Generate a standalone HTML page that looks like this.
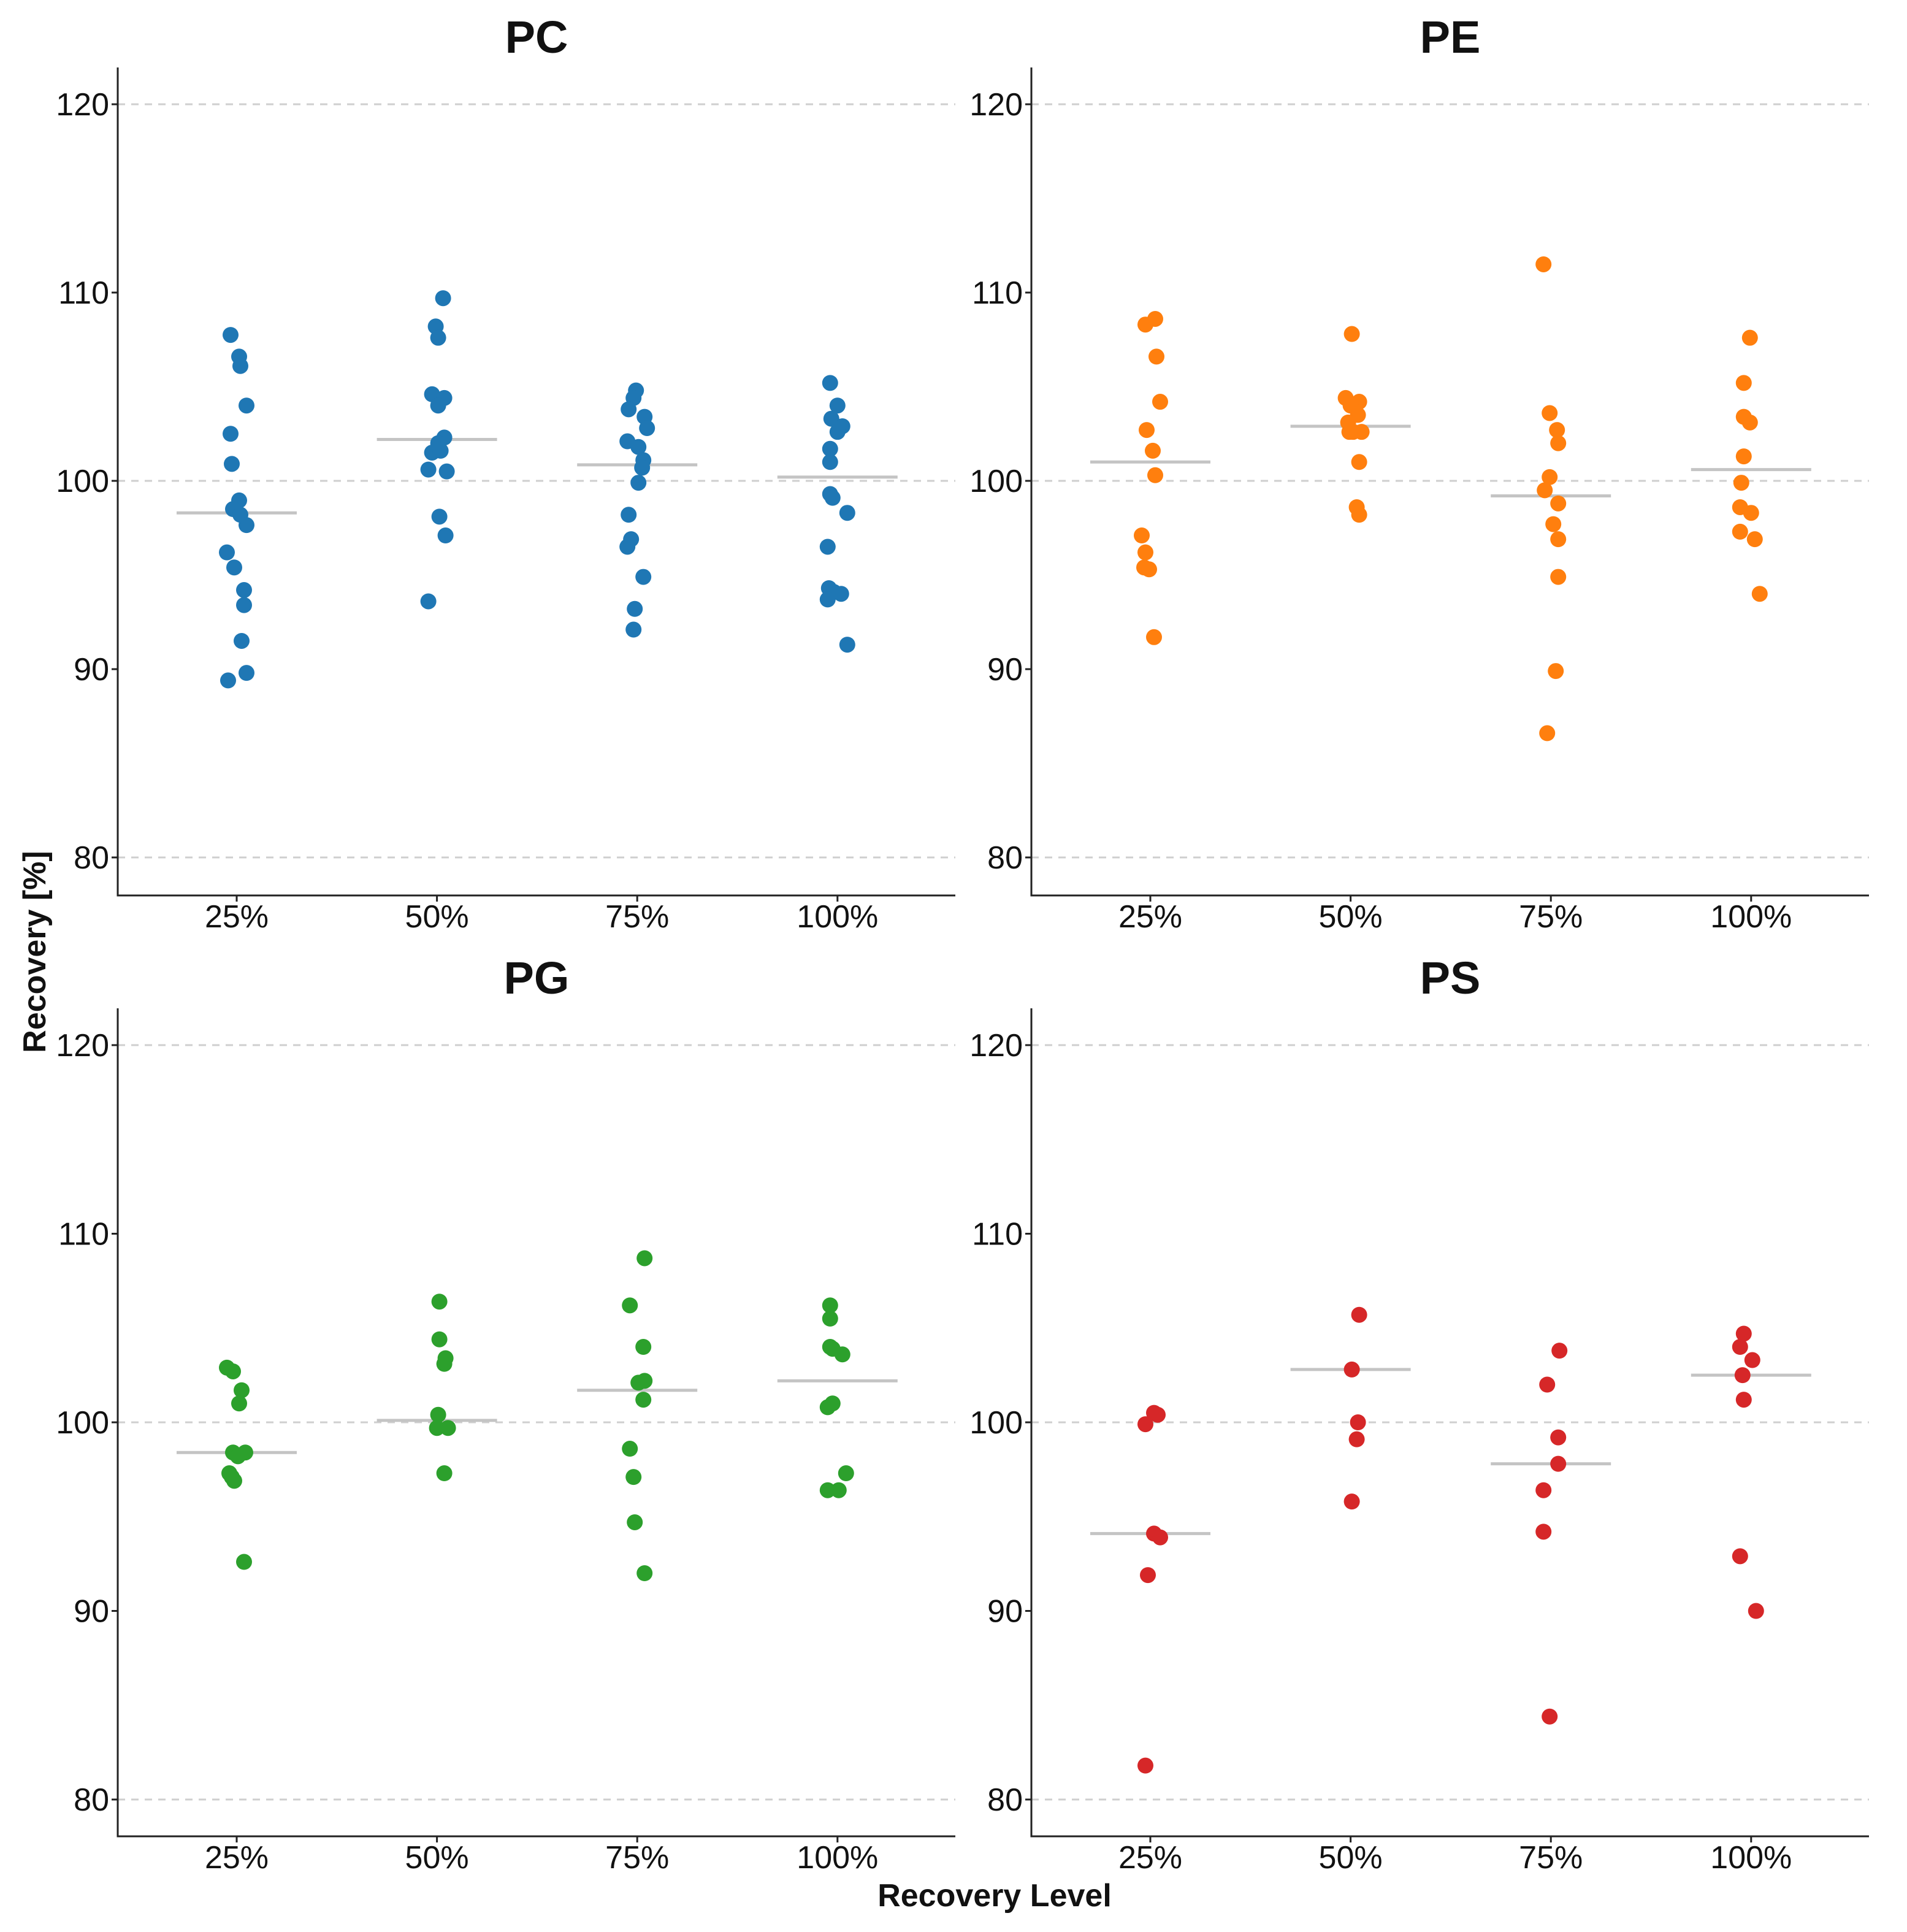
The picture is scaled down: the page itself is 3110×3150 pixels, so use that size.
<!DOCTYPE html>
<html><head><meta charset="utf-8"><style>
html,body{margin:0;padding:0;background:#fff}
svg{display:block;font-family:"Liberation Sans",Arial,sans-serif}
</style></head><body>
<svg id="chart" width="3110" height="3150" viewBox="0 0 1555 1575" xmlns="http://www.w3.org/2000/svg"></svg>
<script>
const categories = ["25%","50%","75%","100%"];
const yTicks = [80,90,100,110,120];
const gridLines = [80,100,120];
const panelNames = ["PC","PE","PG","PS"];
const colors = ["#1f77b4","#ff7f0e","#2ca02c","#d62728"];
const pcValues = [
 [107.75,106.6,106.1,104.0,102.5,100.9,98.96,98.5,98.2,97.65,96.2,95.4,94.2,93.4,91.5,89.8,89.4],
 [109.7,108.2,107.6,104.6,104.4,104.0,102.3,102.0,101.5,101.6,100.6,100.5,98.1,97.1,93.6],
 [104.8,104.4,103.8,103.4,102.8,102.1,101.8,101.1,100.7,99.9,98.2,96.9,96.5,94.9,93.2,92.1],
 [105.2,104.0,103.3,102.9,102.6,101.7,101.0,99.3,99.1,98.3,96.5,94.3,94.1,94.0,93.7,91.3]];
const pcJitter = [
 [-5,2,3,8,-5,-4,2,-3,3,8,-8,-2,6,6,4,8,-7],
 [5,-1,1,-4,6,1,6,1,-4,3,-7,8,2,7,-7],
 [-1,-3,-7,6,8,-8,1,5,4,1,-7,-5,-8,5,-2,-3],
 [-6,0,-5,4,0,-6,-6,-6,-4,8,-8,-7,-3,3,-8,8]];
const peValues = [
 [108.6,108.3,106.6,104.2,102.7,101.6,100.3,97.1,96.2,95.4,95.3,91.7],
 [107.8,104.4,104.2,104.0,103.5,103.1,102.6,102.6,102.6,101.0,98.6,98.2],
 [111.5,103.6,102.7,102.0,100.2,99.5,98.8,97.7,96.9,94.9,89.9,86.6],
 [107.6,105.2,103.4,103.1,101.3,99.9,98.6,98.3,97.3,96.9,94.0]];
const peJitter = [
 [4,-4,5,8,-3,2,4,-7,-4,-5,-1,3],
 [1,-4,7,0,6,-2,2,9,-1,7,5,7],
 [-6,-1,5,6,-1,-5,6,2,6,6,4,-3],
 [-1,-6,-6,-1,-6,-8,-9,0,-9,3,7]];
const pgValues = [
 [102.9,102.7,101.7,101.0,98.4,98.4,98.2,97.3,97.1,96.9,92.6],
 [106.4,104.4,103.4,103.1,100.4,99.7,99.7,97.3],
 [108.7,106.2,104.0,102.2,102.1,101.2,98.6,97.1,94.7,92.0],
 [106.2,105.5,104.0,103.9,103.6,101.0,100.8,97.3,96.4,96.4]];
const pgJitter = [
 [-8,-3,4,2,-3,7,1,-6,-4,-2,6],
 [2,2,7,6,1,0,9,6],
 [6,-6,5,6,1,5,-6,-3,-2,6],
 [-6,-6,-6,-4,4,-4,-8,7,-8,1]];
const psValues = [
 [100.5,100.4,99.9,94.1,93.9,91.9,81.8],
 [105.7,102.8,100.0,99.1,95.8],
 [103.8,102.0,99.2,97.8,96.4,94.2,84.4],
 [104.7,104.0,103.3,102.5,101.2,92.9,90.0]];
const psJitter = [
 [3,6,-4,3,8,-2,-4],
 [7,1,6,5,1],
 [7,-3,6,6,-6,-6,-1],
 [-6,-9,1,-7,-6,-9,4]];
const pcMeans = [98.3,102.2,100.85,100.2];
const peMeans = [101.0,102.9,99.2,100.6];
const pgMeans = [98.4,100.1,101.7,102.2];
const psMeans = [94.1,102.8,97.8,102.5];

const allValues=[pcValues,peValues,pgValues,psValues];
const allJitter=[pcJitter,peJitter,pgJitter,psJitter];
const allMeans=[pcMeans,peMeans,pgMeans,psMeans];
const NS="http://www.w3.org/2000/svg";
const svg=document.getElementById('chart');
function mk(tag,attrs,parent){const e=document.createElementNS(NS,tag);for(const k in attrs)e.setAttribute(k,attrs[k]);(parent||svg).appendChild(e);return e;}
const layouts=[{l:96,r:779,top:55,bot:730,y120:85,y80:699,title:30},
 {l:841,r:1524,top:55,bot:730,y120:85,y80:699,title:30},
 {l:96,r:779,top:822,bot:1497,y120:852,y80:1467,title:797},
 {l:841,r:1524,top:822,bot:1497,y120:852,y80:1467,title:797}];
layouts.forEach((L,p)=>{
  const g=mk('g',{});
  
  
  const yS=v=>L.y80+(v-80)*(L.y120-L.y80)/40;
  const step=163.3, x0=L.l+97;
  const xS=i=>x0+i*step;
  gridLines.forEach(v=>{const ln=mk('line',{x1:L.l,x2:L.r,y1:yS(v),y2:yS(v),stroke:'#cfcfcf','stroke-width':1.5,'stroke-dasharray':'6,5'},g);
    });
  const ax=mk('path',{d:`M${L.l},${L.top}V${L.bot}H${L.r}`,fill:'none',stroke:'#222','stroke-width':1.5},g);
  
  yTicks.forEach(v=>{mk('line',{x1:L.l-5,x2:L.l,y1:yS(v),y2:yS(v),stroke:'#222','stroke-width':1.5},g);
    const t=mk('text',{x:L.l-7,y:yS(v)+9,'text-anchor':'end','font-size':26,fill:'#111'},g);t.textContent=v;
    });
  categories.forEach((c,i)=>{mk('line',{x1:xS(i),x2:xS(i),y1:L.bot,y2:L.bot+5,stroke:'#222','stroke-width':1.5},g);
    const t=mk('text',{x:xS(i),y:L.bot+26,'text-anchor':'middle','font-size':26,fill:'#111'},g);t.textContent=c;
    });
  const tt=mk('text',{x:(L.l+L.r)/2,y:L.title+13,'text-anchor':'middle','font-size':37,'font-weight':'bold',fill:'#111'},g);
  tt.textContent=panelNames[p];
  allMeans[p].forEach((m,i)=>{const ml=mk('line',{x1:xS(i)-49,x2:xS(i)+49,y1:yS(m),y2:yS(m),stroke:'#c4c4c4','stroke-width':2.5},g);
    });
  allValues[p].forEach((arr,i)=>arr.forEach((v,k)=>{
    const c=mk('circle',{cx:xS(i)+allJitter[p][i][k],cy:yS(v),r:6.5,fill:colors[p]},g);
    }));
});
const yl=mk('text',{x:0,y:0,transform:'translate(37,776) rotate(-90)','text-anchor':'middle','font-size':26,'font-weight':'bold',fill:'#111'});
yl.textContent='Recovery [%]';
const xl=mk('text',{x:811,y:1554,'text-anchor':'middle','font-size':26,'font-weight':'bold',fill:'#111'});
xl.textContent='Recovery Level';
</script>
</body></html>
